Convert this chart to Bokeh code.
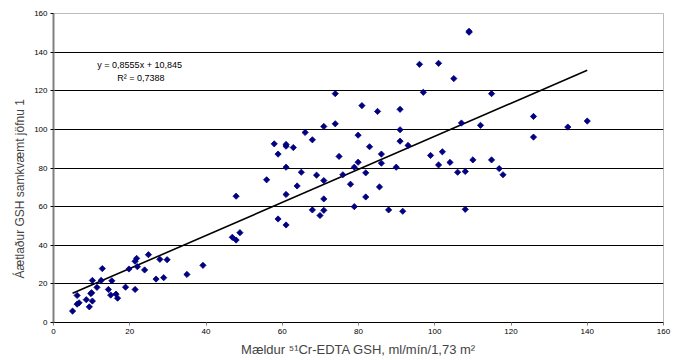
import math
from bokeh.plotting import figure
from bokeh.models import Range1d, FixedTicker, Label, Title
from bokeh.embed import file_html
from bokeh.resources import INLINE

# Measured 51Cr-EDTA GFR (x) vs estimated GFR (y)
measured = [5.0, 6.2, 6.2, 6.7, 8.6, 9.4, 9.8, 10.0, 10.2, 10.2, 11.4, 12.5, 12.8, 14.4, 15.0, 15.3,
            16.4, 16.8, 18.9, 19.8, 21.4, 21.4, 21.8, 22.0, 23.9, 24.9, 26.9, 27.9, 28.9, 29.8, 35.0,
            39.2, 46.9, 47.9, 47.9, 48.9, 55.9, 57.9, 58.9, 58.9, 61.0, 61.0, 61.0, 61.0, 61.0, 62.9,
            63.9, 65.0, 66.0, 67.9, 67.9, 69.0, 69.9, 70.9, 70.9, 70.9, 70.9, 73.9, 73.9, 74.9, 75.9,
            77.9, 78.9, 78.9, 79.9, 79.9, 80.9, 81.9, 81.9, 82.9, 85.0, 85.5, 86.0, 86.0, 87.9, 89.9,
            90.9, 90.9, 90.9, 91.6, 93.0, 96.0, 97.0, 98.9, 101.0, 101.0, 102.0, 104.0, 105.0, 106.0,
            107.0, 108.0, 108.0, 109.0, 109.0, 110.0, 112.0, 114.9, 114.9, 116.9, 117.9, 125.9, 125.9,
            134.9, 140.0]
estimated = [5.9, 14.0, 9.5, 10.2, 11.8, 8.1, 15.0, 15.4, 21.8, 11.1, 18.2, 21.8, 27.9, 17.1, 14.2, 21.6,
             14.7, 12.6, 18.3, 27.7, 17.1, 31.7, 33.2, 28.9, 27.2, 35.1, 22.5, 32.7, 23.2, 32.5, 24.9,
             29.6, 44.1, 42.7, 65.4, 46.5, 73.9, 92.5, 87.2, 53.6, 92.2, 91.3, 80.4, 66.3, 50.5, 90.6,
             70.7, 77.8, 98.4, 94.6, 58.3, 76.3, 55.4, 101.5, 73.5, 64.0, 58.1, 118.5, 102.9, 86.0, 76.5,
             71.6, 80.4, 60.0, 97.0, 83.0, 112.3, 77.5, 65.0, 91.0, 109.3, 70.2, 87.2, 82.5, 58.3, 80.4,
             110.4, 99.8, 93.9, 57.6, 91.7, 133.7, 119.2, 86.5, 134.2, 81.6, 88.4, 82.9, 126.3, 77.8,
             103.3, 78.2, 58.6, 150.8, 150.3, 84.2, 102.1, 118.5, 84.2, 79.7, 76.5, 106.7, 96.0,
             101.2, 104.3]

# Linear trendline (as printed on the chart)
slope = 0.8555
intercept = 10.845
trend_x = [5.0, 140.0]
trend_y = [slope * v + intercept for v in trend_x]

ticks = [0, 20, 40, 60, 80, 100, 120, 140, 160]

FONT = "Liberation Sans"

p = figure(width=684, height=360, output_backend="svg", toolbar_location=None,
           x_range=Range1d(0, 160), y_range=Range1d(0, 160),
           min_border_left=53, min_border_right=21, min_border_top=13, min_border_bottom=38)
p.background_fill_color = "white"
p.border_fill_color = "white"
p.outline_line_color = "#bbbbbb"
p.outline_line_width = 1

# grid
p.xgrid.visible = False
p.ygrid.ticker = FixedTicker(ticks=ticks)
p.ygrid.grid_line_color = "#000000"
p.ygrid.grid_line_width = 1

# axes
for ax in (p.xaxis[0], p.yaxis[0]):
    ax.ticker = FixedTicker(ticks=ticks)
    ax.major_label_text_font = FONT
    ax.major_label_text_font_size = "8px"
    ax.major_label_text_color = "#000000"
    ax.minor_tick_line_color = None
    ax.major_tick_in = 0
    ax.major_tick_out = 3
    ax.major_label_standoff = 3

p.yaxis[0].axis_line_color = "#808080"
p.yaxis[0].axis_line_width = 2
p.yaxis[0].major_tick_line_color = "#000000"
p.xaxis[0].axis_line_color = "#000000"
p.xaxis[0].axis_line_width = 1
p.xaxis[0].major_tick_line_color = "#808080"

p.xaxis[0].axis_label = "Mældur \u2075\u00b9Cr-EDTA GSH, ml/mín/1,73 m\u00b2"
p.xaxis[0].axis_label_text_font = FONT
p.xaxis[0].axis_label_text_font_size = "13px"
p.xaxis[0].axis_label_text_font_style = "normal"
p.xaxis[0].axis_label_standoff = 5

ytitle = Title(text="Áætlaður GSH samkvæmt jöfnu 1", text_font=FONT, text_font_size="12px",
               text_font_style="normal", align="left", offset=44)
p.add_layout(ytitle, "left")

# trendline
p.line(trend_x, trend_y, line_color="#000000", line_width=1.6)

# points
p.scatter(measured, estimated, marker="square", angle=math.pi / 4, size=4.4,
          fill_color="#000080", line_color="#000080", line_width=0.8)

# equation labels
p.add_layout(Label(x=11.5, y=133.2, text="y = 0,8555x + 10,845", text_font=FONT,
                   text_font_size="9px", text_baseline="middle", text_color="#000000"))
p.add_layout(Label(x=16.7, y=126.5, text="R\u00b2 = 0,7388", text_font=FONT,
                   text_font_size="9px", text_baseline="middle", text_color="#000000"))

open("out.html", "w").write(file_html(p, INLINE))
